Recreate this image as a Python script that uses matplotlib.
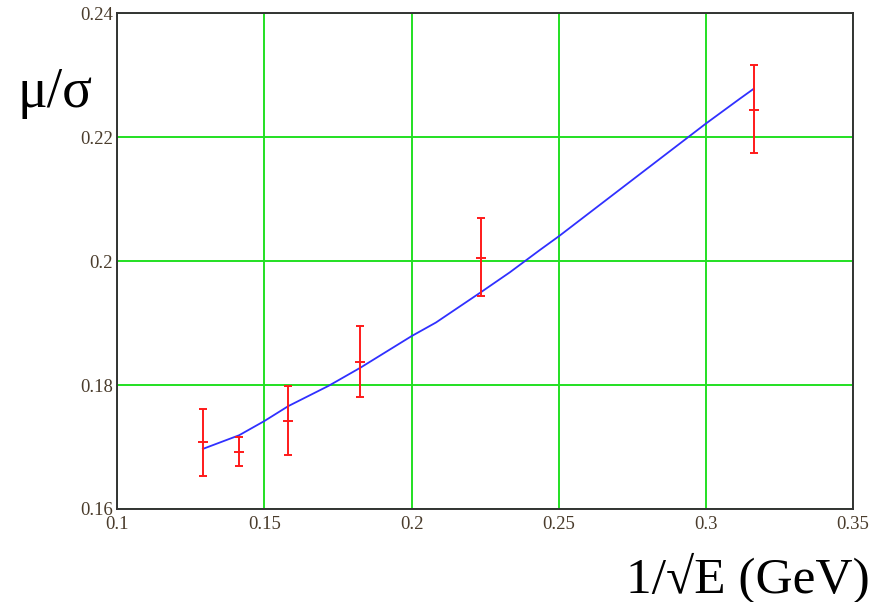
import matplotlib
matplotlib.use("Agg")
import matplotlib.pyplot as plt

# data points (x = 1/sqrt(E))
x_pts = [0.1291, 0.1414, 0.1581, 0.1826, 0.2236, 0.3162]
y_mid = [0.1708, 0.1692, 0.1742, 0.1837, 0.2005, 0.2244]
y_hi = [0.1761, 0.1716, 0.1798, 0.1895, 0.2069, 0.2316]
y_lo = [0.1653, 0.1669, 0.1687, 0.1780, 0.1943, 0.2174]

# fit curve
x_fit = [0.1291, 0.1414, 0.1500, 0.1581, 0.1719, 0.1826, 0.2000, 0.2083,
         0.2236, 0.2334, 0.2436, 0.2500, 0.3000, 0.3115, 0.3162]
y_fit = [0.1697, 0.1719, 0.1742, 0.1766, 0.1799, 0.1828, 0.1879, 0.1901,
         0.1950, 0.1982, 0.2018, 0.2040, 0.2222, 0.2262, 0.2278]

x_ticks = [0.1, 0.15, 0.2, 0.25, 0.3, 0.35]
x_tick_labels = ["0.1", "0.15", "0.2", "0.25", "0.3", "0.35"]
y_ticks = [0.16, 0.18, 0.2, 0.22, 0.24]
y_tick_labels = ["0.16", "0.18", "0.2", "0.22", "0.24"]

fig = plt.figure(figsize=(8.87, 6.02), dpi=100)
ax = fig.add_axes([0.1322, 0.1545, 0.8295, 0.8234])

ax.set_xlim(0.1, 0.35)
ax.set_ylim(0.16, 0.24)
ax.set_xticks(x_ticks)
ax.set_xticklabels(x_tick_labels)
ax.set_yticks(y_ticks)
ax.set_yticklabels(y_tick_labels)

ax.grid(True, color="#22e022", linewidth=1.4, zorder=0)
ax.set_axisbelow(True)
ax.tick_params(axis="x", length=0, pad=5, labelsize=13.5, labelcolor="#4a3c2c")
ax.tick_params(axis="y", length=0, pad=3, labelsize=13.5, labelcolor="#4a3c2c")
for lab in ax.get_xticklabels() + ax.get_yticklabels():
    lab.set_family("Liberation Serif")
for sp in ax.spines.values():
    sp.set_color("#333333")
    sp.set_linewidth(1.4)

ax.plot(x_fit, y_fit, color="#3030ff", linewidth=1.3, zorder=3)

yerr = [[m - l for m, l in zip(y_mid, y_lo)], [h - m for m, h in zip(y_mid, y_hi)]]
ax.errorbar(x_pts, y_mid, yerr=yerr, fmt="none", ecolor="#ff1a1a",
            elinewidth=1.4, capsize=3.2, capthick=1.4, zorder=4)
ax.plot(x_pts, y_mid, linestyle="none", marker="_", markersize=6.5,
        markeredgewidth=1.4, color="#ff1a1a", zorder=4)

fig.text(0.020, 0.845, "μ/σ", family="Liberation Serif", fontsize=40,
         ha="left", va="center", color="black")
fig.text(0.980, 0.040, "1/√E (GeV)", family="Liberation Serif", fontsize=37,
         ha="right", va="center", color="black")

fig.savefig("out.png", dpi=100)
